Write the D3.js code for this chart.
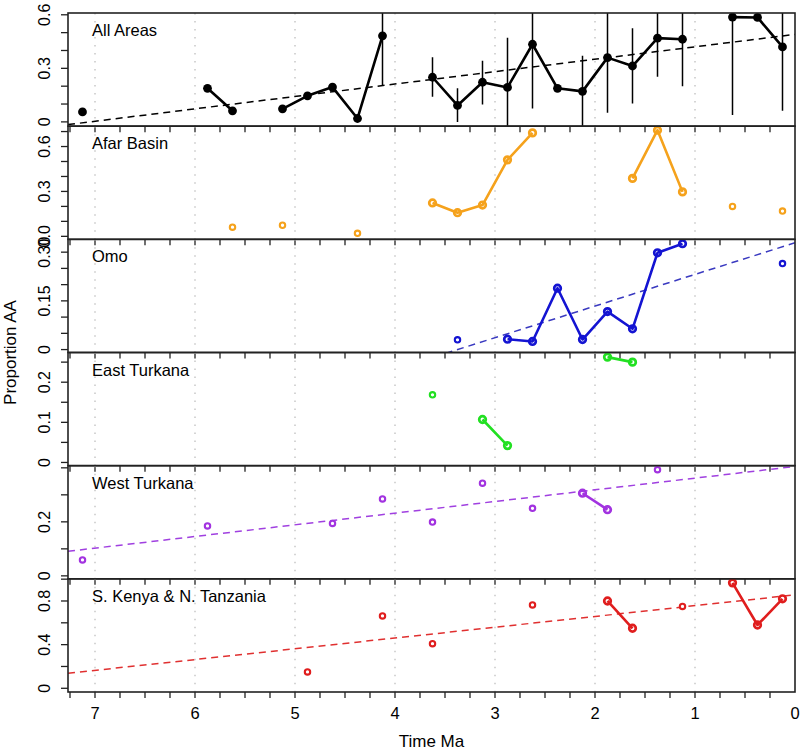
<!DOCTYPE html>
<html><head><meta charset="utf-8">
<script src="https://cdn.jsdelivr.net/npm/d3@7"></script>
<style>
body{margin:0;background:#fff}
svg{display:block}
text{font-family:"Liberation Sans",Arial,Helvetica,sans-serif;fill:#000}
</style>
</head><body>
<svg id="chart" width="800" height="752"></svg>
<script>
// ---------- DATA ----------
// time bins (Ma), 0.25 Ma wide
const bins = [7.125, 6.875, 6.625, 6.375, 6.125, 5.875, 5.625, 5.375, 5.125, 4.875,
              4.625, 4.375, 4.125, 3.875, 3.625, 3.375, 3.125, 2.875, 2.625, 2.375,
              2.125, 1.875, 1.625, 1.375, 1.125, 0.875, 0.625, 0.375, 0.125];
const N = null;
const allAreas = [0.056, N, N, N, N, 0.188, 0.062, N, 0.073, 0.146,
                  0.195, 0.019, 0.482, N, 0.25, 0.092, 0.222, 0.193, 0.435, 0.188,
                  0.171, 0.36, 0.313, 0.469, 0.463, N, 0.587, 0.585, 0.42];
const allLow  = [N, N, N, N, N, N, N, N, N, N,
                 N, N, 0.206, N, 0.141, 0.0, 0.098, -0.03, 0.075, N,
                 -0.03, 0.051, 0.103, 0.253, 0.2, N, 0.038, N, 0.062];
const allHigh = [N, N, N, N, N, N, N, N, N, N,
                 N, N, 1.0, N, 0.362, 0.188, 0.343, 0.472, 1.0, N,
                 0.37, 1.0, 0.525, 1.0, 1.0, N, 1.0, N, 1.0];
const afarBasin = [N, N, N, N, N, N, 0.061, N, 0.074, N,
                   N, 0.02, N, N, 0.223, 0.158, 0.209, 0.511, 0.691, N,
                   N, N, 0.387, 0.709, 0.297, N, 0.2, N, 0.169];
const omo = [N, N, N, N, N, N, N, N, N, N,
             N, N, N, N, N, 0.03, N, 0.032, 0.025, 0.189,
             0.031, 0.117, 0.064, 0.298, 0.326, N, N, N, 0.265];
const eastTurkana = [N, N, N, N, N, N, N, N, N, N,
                     N, N, N, N, 0.1685, N, 0.107, 0.042, N, N,
                     N, 0.2625, 0.25, N, N, N, N, N, N];
const westTurkana = [0.059, N, N, N, N, 0.185, N, N, N, N,
                     0.194, N, 0.285, N, 0.199, N, 0.343, N, 0.25, N,
                     0.306, 0.245, N, 0.393, N, N, N, N, N];
const kenyaTanzania = [N, N, N, N, N, N, N, N, N, 0.15,
                       N, N, 0.663, N, 0.409, N, N, N, 0.764, N,
                       N, 0.8, 0.55, N, 0.75, N, 0.966, 0.58, 0.82];

const panelNames = ["All Areas", "Afar Basin", "Omo", "East Turkana", "West Turkana", "S. Kenya & N. Tanzania"];
const panelColors = ["#000000", "#F5A21C", "#1414D2", "#22E022", "#A233E0", "#E01E1E"];
const trendColors = ["#000000", null, "#3a3ac0", null, "#A040E0", "#E03030"];
// regression lines: value at 0 Ma and change per Ma going back in time
const trendAt0    = [0.49, N, 0.329, N, 0.405, 0.856];
const trendSlope  = [0.0695, N, 0.0975, N, 0.0432, 0.0988];
// y-axis limits, labelled ticks and minor ticks
const yLimits = [[-0.024, 0.61], [-0.02, 0.736], [-0.009, 0.3395], [-0.008, 0.274], [-0.011, 0.408], [-0.034, 1.003]];
const yLabelTicks = [[0, 0.3, 0.6], [0, 0.3, 0.6], [0, 0.15, 0.30], [0, 0.1, 0.2], [0, 0.2], [0, 0.4, 0.8]];
const yLabelText  = [["0", "0.3", "0.6"], ["0.0", "0.3", "0.6"], ["0", "0.15", "0.30"], ["0", "0.1", "0.2"], ["0", "0.2"], ["0", "0.4", "0.8"]];
const yMinorStep  = [0.1, 0.1, 0.05, 0.05, 0.1, 0.2];
const xMajorTicks = [7, 6, 5, 4, 3, 2, 1, 0];
const xGridLines  = [7, 6, 5, 4, 3, 2, 1];
const xTimeLimits = [7.27, 0];

// ---------- LAYOUT ----------
(function draw() {
const svg = d3.select("#chart");
const pLeft = 68, pRight = 795, pTop = 13, pBottom = 692;
const nP = panelNames.length;
const ph = (pBottom - pTop) / nP;
const x = d3.scaleLinear().domain(xTimeLimits).range([pLeft, pRight]);
const xMinor = d3.range(29).map(i => 7.25 - 0.25 * i); // tick positions only
const series = [allAreas, afarBasin, omo, eastTurkana, westTurkana, kenyaTanzania];

const defs = svg.append("defs");

series.forEach((vals, p) => {
  const y0 = pTop + p * ph, y1 = y0 + ph;
  const y = d3.scaleLinear().domain(yLimits[p]).range([y1, y0]);
  const g = svg.append("g");
  const col = panelColors[p];

  defs.append("clipPath").attr("id", "clip" + p)
    .append("rect").attr("x", pLeft).attr("y", y0).attr("width", pRight - pLeft).attr("height", ph);

  // grid
  g.selectAll(".grid").data(xGridLines).join("line")
    .attr("x1", d => x(d)).attr("x2", d => x(d)).attr("y1", y0).attr("y2", y1)
    .attr("stroke", "#c4c4c4").attr("stroke-width", 1.4).attr("stroke-dasharray", "1.5,6.5");

  const plot = g.append("g").attr("clip-path", `url(#clip${p})`);

  // trend line
  if (trendAt0[p] !== null) {
    const f = t => trendAt0[p] - trendSlope[p] * t;
    plot.append("line")
      .attr("x1", x(xTimeLimits[0])).attr("y1", y(f(xTimeLimits[0])))
      .attr("x2", x(xTimeLimits[1])).attr("y2", y(f(xTimeLimits[1])))
      .attr("stroke", trendColors[p]).attr("stroke-width", 1.5).attr("stroke-dasharray", "7,5");
  }

  const pts = bins.map((b, i) => ({t: b, v: vals[i], i}));
  // error bars (all areas)
  if (p === 0) {
    plot.selectAll(".err").data(pts.filter(d => allLow[d.i] !== null)).join("line")
      .attr("x1", d => x(d.t)).attr("x2", d => x(d.t))
      .attr("y1", d => y(allLow[d.i])).attr("y2", d => y(allHigh[d.i]))
      .attr("stroke", "#000").attr("stroke-width", 1.5);
  }
  const line = d3.line().defined(d => d.v !== null).x(d => x(d.t)).y(d => y(d.v));
  plot.append("path").datum(pts).attr("d", line)
    .attr("fill", "none").attr("stroke", col).attr("stroke-width", 2.6).attr("stroke-linejoin", "round");

  const present = pts.filter(d => d.v !== null);
  const connected = d => (d.i > 0 && vals[d.i - 1] !== null) || (d.i < vals.length - 1 && vals[d.i + 1] !== null);
  if (p === 0) {
    plot.selectAll(".pt").data(present).join("circle")
      .attr("cx", d => x(d.t)).attr("cy", d => y(d.v)).attr("r", 4.4).attr("fill", "#000");
  } else {
    plot.selectAll(".pt").data(present).join("circle")
      .attr("cx", d => x(d.t)).attr("cy", d => y(d.v))
      .attr("r", d => connected(d) ? 3.3 : 2.7)
      .attr("fill", d => connected(d) ? "none" : "#fff")
      .attr("stroke", col).attr("stroke-width", d => connected(d) ? 2.7 : 2.1);
  }

  // frame
  g.append("rect").attr("x", pLeft).attr("y", y0).attr("width", pRight - pLeft).attr("height", ph)
    .attr("fill", "none").attr("stroke", "#222").attr("stroke-width", 1.6);

  // x ticks on bottom edge
  g.selectAll(".xt").data(xMinor).join("line")
    .attr("x1", d => x(d)).attr("x2", d => x(d)).attr("y1", y1).attr("y2", y1 + 6)
    .attr("stroke", "#222").attr("stroke-width", 1.3);

  // y ticks
  const lim = yLimits[p];
  const minor = d3.range(0, lim[1] + 1e-9, yMinorStep[p]);
  g.selectAll(".yt").data(minor).join("line")
    .attr("x1", pLeft - 7).attr("x2", pLeft).attr("y1", d => y(d)).attr("y2", d => y(d))
    .attr("stroke", "#222").attr("stroke-width", 1.3);
  g.selectAll(".yl").data(yLabelTicks[p]).join("text")
    .attr("transform", d => `translate(50,${y(d)}) rotate(-90)`)
    .attr("text-anchor", "middle").attr("font-size", 16)
    .text((d, i) => yLabelText[p][i]);

  // title
  g.append("text").attr("x", 92).attr("y", y0 + 23).attr("font-size", 16.5).text(panelNames[p]);
});

// bottom axis labels
svg.selectAll(".xl").data(xMajorTicks).join("text")
  .attr("x", d => x(d)).attr("y", 719).attr("text-anchor", "middle").attr("font-size", 16.5)
  .text(d => d);

svg.append("text").attr("x", (pLeft + pRight) / 2).attr("y", 747).attr("text-anchor", "middle")
  .attr("font-size", 17).text("Time Ma");
svg.append("text").attr("transform", `translate(16,${(pTop + pBottom) / 2}) rotate(-90)`)
  .attr("text-anchor", "middle").attr("font-size", 17).text("Proportion AA");
})();
</script>
</body></html>
